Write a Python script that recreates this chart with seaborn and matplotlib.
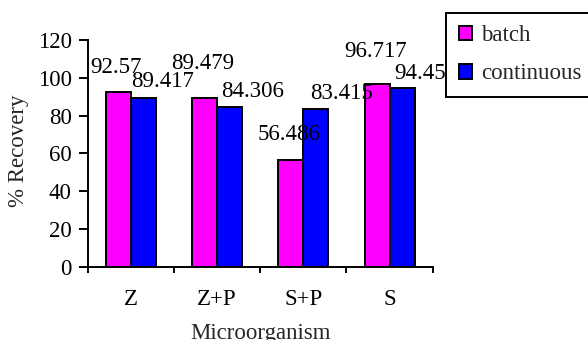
import matplotlib
matplotlib.use("Agg")
import matplotlib.pyplot as plt
import seaborn as sns
import pandas as pd
import numpy as np

categories = ["Z", "Z+P", "S+P", "S"]
batch = [92.57, 89.479, 56.486, 96.717]
continuous = [89.417, 84.306, 83.415, 94.45]
series_names = ["batch", "continuous"]
series_colors = ["#FF00FF", "#0000FF"]

# label placement (pixels) as seen in the reference: manual offsets
batch_label_dx = [-2, -2, -2, -2]
batch_label_dy = [18.4, 29, 20, 26.7]
cont_label_dx = [0, 4, 7, 5]
cont_label_dy = [10.6, 10.6, 10.6, 9]

df = pd.DataFrame({
    "Microorganism": categories * 2,
    "value": batch + continuous,
    "series": [series_names[0]] * 4 + [series_names[1]] * 4,
})

sns.set_style("ticks")
plt.rcParams["font.family"] = ["Liberation Serif", "DejaVu Serif"]
FS = 16.5
PX = 0.72  # points per pixel at dpi 100

fig = plt.figure(figsize=(5.88, 3.40), dpi=100)
ax = fig.add_axes([87.7 / 588, 1 - 266.8 / 340, 345 / 588, 226.8 / 340])

sns.barplot(data=df, x="Microorganism", y="value", hue="series",
            order=categories, hue_order=series_names,
            palette=series_colors, width=0.58, dodge=True,
            edgecolor="black", linewidth=1.4, saturation=1, ax=ax,
            legend=True)

ax.set_xlim(-0.5, len(categories) - 0.5)
ax.set_ylim(0, 120)
ax.set_yticks(np.arange(0, 121, 20))
ax.set_xticks(range(len(categories)))
ax.set_xticklabels(categories)
ax.set_xticks(np.arange(-0.5, len(categories), 1.0), minor=True)

for s in ["top", "right"]:
    ax.spines[s].set_visible(False)
for s in ["left", "bottom"]:
    ax.spines[s].set_color("black")
    ax.spines[s].set_linewidth(1.4)

ax.tick_params(axis="x", which="major", length=0, pad=16, labelsize=FS, colors="black")
ax.tick_params(axis="x", which="minor", length=4.5, width=1.4, direction="out", color="black")
ax.tick_params(axis="y", which="major", length=6.5, width=1.4, pad=5, labelsize=FS, colors="black")

ax.set_xlabel("Microorganism", fontsize=FS)
ax.set_ylabel("% Recovery", fontsize=FS)
ax.xaxis.set_label_coords(0.5, (266.8 - 323.5) / 226.8)
ax.yaxis.set_label_coords((29 - 87.7) / 345, 0.51)

# data labels
batch_bars, cont_bars = ax.containers[0], ax.containers[1]
for bar, dx, dy in zip(batch_bars, batch_label_dx, batch_label_dy):
    h = bar.get_height()
    xc = bar.get_x() + bar.get_width() / 2
    ax.annotate(f"{h:g}", xy=(xc, h), xytext=(dx * PX, dy * PX),
                textcoords="offset points", ha="center", va="baseline",
                fontsize=FS, color="black", annotation_clip=False, zorder=3)
for bar, dx, dy in zip(cont_bars, cont_label_dx, cont_label_dy):
    h = bar.get_height()
    ax.annotate(f"{h:g}", xy=(bar.get_x(), h), xytext=(dx * PX, dy * PX),
                textcoords="offset points", ha="left", va="baseline",
                fontsize=FS, color="black", annotation_clip=False, zorder=3)

leg = ax.legend(loc="upper left", bbox_to_anchor=(446.3 / 588, 1 - 12.7 / 340),
                bbox_transform=fig.transFigure, borderaxespad=0, fontsize=FS,
                frameon=True, fancybox=False, shadow=False, framealpha=1,
                edgecolor="black", borderpad=0.55, handlelength=0.58,
                handleheight=0.58, handletextpad=0.4, labelspacing=0.75,
                title=None)
leg.get_frame().set_linewidth(1.4)
leg.set_zorder(10)
for h in leg.legend_handles:
    h.set_edgecolor("black")
    h.set_linewidth(1.4)

fig.savefig("out.png", dpi=100)
